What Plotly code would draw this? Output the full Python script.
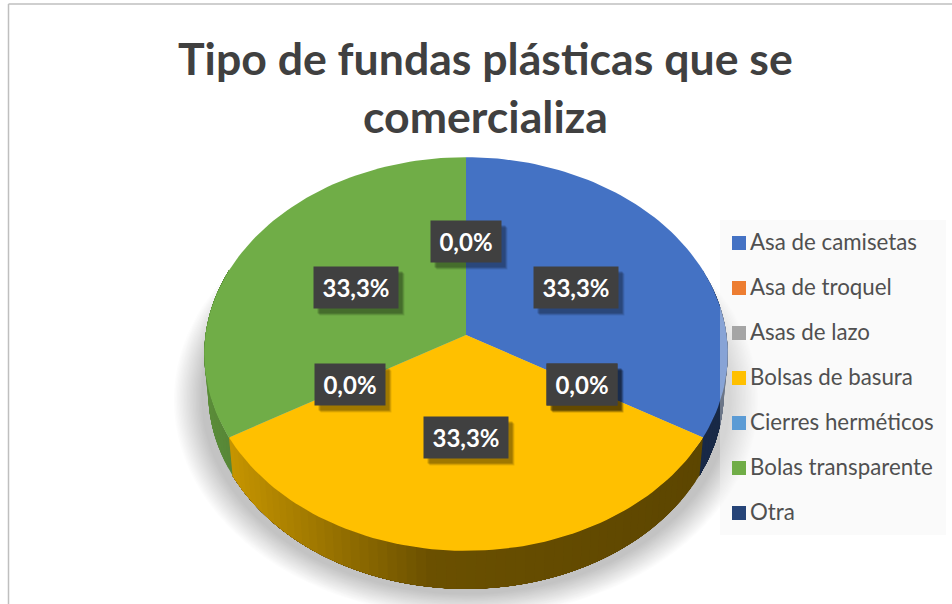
import numpy as np
import plotly.graph_objects as go

categories = ["Asa de camisetas", "Asa de troquel", "Asas de lazo", "Bolsas de basura",
              "Cierres herméticos", "Bolas transparente", "Otra"]
values = [1, 0, 0, 1, 0, 1, 0]
colors = ["#4472C4", "#ED7D31", "#A5A5A5", "#FFC000", "#5B9BD5", "#70AD47", "#264478"]
title_lines = ["Tipo de fundas plásticas que se", "comercializa"]

# page geometry of the tilted disc
W, H = 952, 604
CX, CY = 466, 335
SX, SY, K = 260.5, 195, 0.0965
DEPTH, BOTTOM_SCALE = 38, 0.985
FONT = "Lato"


def project(r, deg):
    a = np.radians(deg)
    x, y = r * np.sin(a), r * np.cos(a)
    d = 1 + K * y
    return CX + SX * x / d, CY - SY * y / d


def lower(deg):
    x, y = project(1, deg)
    return CX + (x - CX) * BOTTOM_SCALE, y + DEPTH


def shade(x):
    return float(np.interp(x, [204, 233, 330, 430, 724], [.82, .77, .60, .42, .36]))


def darker(hexcolor, f):
    rgb = [int(hexcolor[i:i + 2], 16) for i in (1, 3, 5)]
    return "rgb(%d,%d,%d)" % tuple(int(c * f) for c in rgb)


total = sum(values)
shares = [v / total for v in values]
ends = np.cumsum(shares) * 360
starts = ends - np.array(shares) * 360

fig = go.Figure()


def poly(xs, ys, fill):
    fig.add_trace(go.Scatter(x=list(xs), y=list(ys), mode="lines", fill="toself", fillcolor=fill,
                             line=dict(color="rgba(0,0,0,0)", width=0),
                             hoverinfo="skip", showlegend=False))


# soft ground shadow
ring = np.linspace(0, 360, 121)
for step in range(20):
    grow = 1.0 + step * 0.0055
    px, py = project(1, ring)
    poly(CX + (px - CX) * (grow + 0.012), py + DEPTH + 6 + (py - CY) * (grow - 1), "rgba(0,0,0,0.011)")

# side wall, slice by slice; each band is painted through to the slice end so no seams show
WALL_STEP = 2
for s, e, c in zip(starts, ends, colors):
    lo, hi = max(s, 70), min(e, 290)
    if hi <= lo:
        continue
    for a in np.arange(lo, hi, WALL_STEP):
        arc = np.linspace(a, hi, 40)
        ta, tb = project(1, arc), lower(arc[::-1])
        xs = [*ta[0], *tb[0]]
        ys = [*ta[1], *tb[1]]
        band_x = project(1, a + WALL_STEP / 2)[0]
        poly(xs, ys, darker(c, shade(band_x)))

# top face
for s, e, c in zip(starts, ends, colors):
    if e - s <= 0:
        continue
    arc = np.linspace(s, e, 80)
    ax, ay = project(1, arc)
    poly([CX, *ax, CX], [CY, *ay, CY], c)

# legend panel, translucent over the disc
poly([720, 946, 946, 720, 720], [220, 220, 535, 535, 220], "rgba(242,242,242,0.39)")

# legend entries
legend_y = [243 + 45 * i for i in range(len(categories))]
fig.add_trace(go.Scatter(
    x=[739] * len(categories), y=legend_y, mode="markers",
    marker=dict(symbol="square", size=14, color=colors, line=dict(width=0)),
    cliponaxis=False, hoverinfo="skip", showlegend=False))
fig.add_trace(go.Scatter(
    x=[750] * len(categories), y=[y + 1 for y in legend_y], mode="text", text=categories,
    textposition="middle right", textfont=dict(family=FONT, size=22.3, color="#505050"),
    cliponaxis=False, hoverinfo="skip", showlegend=False))

# percentage labels at the middle of every slice
annotations = []
for s, e, v in zip(starts, ends, shares):
    x, y = project(0.5, (s + e) / 2)
    w = 84 if v > 0 else 70
    for dx, dy, a in ((6, 7, .10), (5, 6, .14), (4, 5, .18)):
        annotations.append(dict(x=x + dx, y=y + dy, xref="x", yref="y", text=" ", showarrow=False,
                                width=w, height=41, borderpad=0, bgcolor=f"rgba(0,0,0,{a})",
                                font=dict(size=10)))
for s, e, v in zip(starts, ends, shares):
    x, y = project(0.5, (s + e) / 2)
    label = f"{v * 100:.1f}%".replace(".", ",")
    w = 84 if v > 0 else 70
    annotations.append(dict(x=x, y=y, xref="x", yref="y", text=f"<b>{label}</b>", showarrow=False,
                            width=w, height=41, borderpad=0, bgcolor="#404040", align="center",
                            valign="middle", font=dict(family=FONT, size=24, color="white")))
for line, y in zip(title_lines, (57, 115)):
    annotations.append(dict(x=485, y=y, xref="x", yref="y", text=f"<b>{line}</b>", showarrow=False,
                            font=dict(family=FONT, size=44.6, color="#404040")))

fig.update_layout(
    width=W, height=H, margin=dict(l=0, r=0, t=0, b=0),
    paper_bgcolor="white", plot_bgcolor="rgba(0,0,0,0)", showlegend=False,
    xaxis=dict(range=[0, W], visible=False, fixedrange=True),
    yaxis=dict(range=[H, 0], visible=False, fixedrange=True),
    annotations=annotations,
    shapes=[dict(type="line", xref="x", yref="y", x0=8.5, x1=8.5, y0=4, y1=H, line=dict(color="#BFBFBF", width=1.5)),
            dict(type="line", xref="x", yref="y", x0=8.5, x1=W, y0=4, y1=4, line=dict(color="#BFBFBF", width=1.5))],
)
fig.write_html("out.html", config={"displayModeBar": False},
               post_script="document.body.style.margin='0';")
